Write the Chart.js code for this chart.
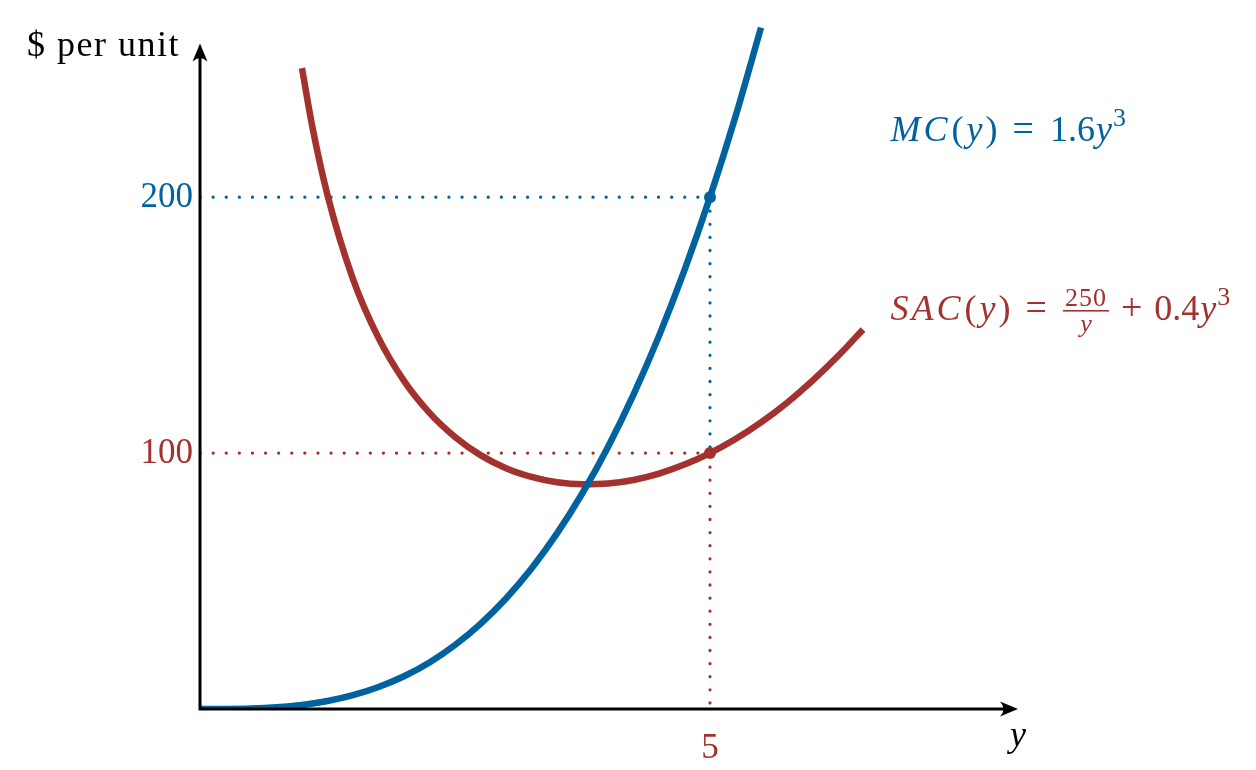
<!DOCTYPE html>
<html>
<head>
<meta charset="utf-8">
<script src="https://cdn.jsdelivr.net/npm/chart.js@4.4.1/dist/chart.umd.min.js"></script>
<style>
  html, body { margin: 0; padding: 0; background: #fff; }
  #wrap { width: 1256px; height: 770px; position: relative; }
</style>
</head>
<body>
<div id="wrap"><canvas id="costChart"></canvas></div>
<script>
// output y and cost values
var mcX = [0, 0.25, 0.5, 0.75, 1, 1.25, 1.5, 1.75, 2, 2.25, 2.5, 2.75, 3, 3.25, 3.5, 3.75, 4, 4.25, 4.5, 4.75, 5, 5.25, 5.5];
var mcY = [0, 0.03, 0.2, 0.7, 1.6, 3.1, 5.4, 8.6, 12.8, 18.2, 25, 33.3, 43.2, 54.9, 68.6, 84.4, 102.4, 122.8, 145.8, 171.5, 200, 231.5, 266.2];

var sacX = [1, 1.1, 1.25, 1.5, 1.75, 2, 2.25, 2.5, 2.75, 3, 3.25, 3.5, 3.75, 4, 4.25, 4.5, 4.75, 5, 5.25, 5.5, 5.75, 6, 6.25, 6.5];
var sacY = [250.4, 227.8, 200.8, 168.0, 145.0, 128.2, 115.7, 106.3, 99.2, 94.1, 90.7, 88.6, 87.8, 88.1, 89.5, 92.0, 95.5, 100, 105.5, 112.0, 119.5, 128.1, 137.7, 148.3];

// guide lines and marked points
var guideBlueX = [0, 5, 5];
var guideBlueY = [200, 200, 100];
var guideRedX = [0, 5, 5];
var guideRedY = [100, 100, 0];
var markX = [5, 5];
var markY = [200, 100];

// tick labels
var yTicks = [100, 200];
var yTickColors = ['#a3312d', '#00639f'];
var xTicks = [5];

var azul = '#00639f';
var rojo = '#a3312d';
var serif = '"Liberation Serif", "Times New Roman", serif';

function pares(xs, ys) {
  return xs.map(function (v, i) { return { x: v, y: ys[i] }; });
}

function flecha(ctx, x, y, ang) {
  ctx.save();
  ctx.translate(x, y);
  ctx.rotate(ang);
  ctx.beginPath();
  ctx.moveTo(0, 0);
  ctx.lineTo(-18, -7.5);
  ctx.quadraticCurveTo(-11, 0, -18, 7.5);
  ctx.closePath();
  ctx.fill();
  ctx.restore();
}

// draws a row of text pieces, returns the end x
function texto(ctx, x, y, partes, color) {
  ctx.fillStyle = color;
  ctx.textAlign = 'left';
  ctx.textBaseline = 'alphabetic';
  partes.forEach(function (p) {
    ctx.font = (p.i ? 'italic ' : '') + (p.s || 36) + 'px ' + serif;
    x += p.pre || 0;
    ctx.fillText(p.t, x, y + (p.dy || 0));
    x += ctx.measureText(p.t).width + (p.gap === undefined ? 3 : p.gap);
  });
  return x;
}

var ejesPlugin = {
  id: 'ejes',
  afterDatasetsDraw: function (chart) {
    var ctx = chart.ctx;
    var sx = chart.scales.x, sy = chart.scales.y;
    var x0 = sx.getPixelForValue(0), y0 = sy.getPixelForValue(0);
    var xEnd = sx.getPixelForValue(8) + 2;
    var yEnd = sy.getPixelForValue(260);

    ctx.save();
    ctx.strokeStyle = '#000';
    ctx.fillStyle = '#000';
    ctx.lineWidth = 3;
    ctx.beginPath();
    ctx.moveTo(x0 - 1.5, y0);
    ctx.lineTo(xEnd - 10, y0);
    ctx.moveTo(x0, y0 + 1.5);
    ctx.lineTo(x0, yEnd + 10);
    ctx.stroke();
    flecha(ctx, xEnd, y0, 0);
    flecha(ctx, x0, yEnd, -Math.PI / 2);

    // tick labels
    ctx.font = '35px ' + serif;
    ctx.textAlign = 'right';
    ctx.textBaseline = 'middle';
    yTicks.forEach(function (v, i) {
      ctx.fillStyle = yTickColors[i];
      ctx.fillText(String(v), x0 - 7, sy.getPixelForValue(v) + 1);
    });
    ctx.textAlign = 'center';
    ctx.fillStyle = rojo;
    xTicks.forEach(function (v) {
      ctx.fillText(String(v), sx.getPixelForValue(v), y0 + 40);
    });

    // axis titles
    ctx.fillStyle = '#000';
    ctx.textAlign = 'right';
    ctx.font = '36px ' + serif;
    ctx.letterSpacing = '1.5px';
    ctx.fillText('$ per unit', x0 - 20, yEnd + 3);
    ctx.letterSpacing = '0px';
    ctx.textAlign = 'center';
    ctx.font = 'italic 36px ' + serif;
    ctx.fillText('y', xEnd, y0 + 28);
    ctx.restore();

    // curve labels
    ctx.save();
    var lx = sx.getPixelForValue(6.77);
    texto(ctx, lx, sy.getPixelForValue(222), [
      { t: 'M', i: true }, { t: 'C', i: true, gap: 4 }, { t: '(' }, { t: 'y', i: true }, { t: ')' },
      { t: '=', pre: 12, gap: 16, s: 38 }, { t: '1.6', gap: 1 }, { t: 'y', i: true, gap: 1 }, { t: '3', s: 26, dy: -15 }
    ], azul);

    var by = sy.getPixelForValue(152);
    var fx = texto(ctx, lx, by, [
      { t: 'S', i: true }, { t: 'A', i: true }, { t: 'C', i: true, gap: 4 }, { t: '(' }, { t: 'y', i: true }, { t: ')' },
      { t: '=', pre: 12, gap: 16, s: 38 }
    ], rojo);
    ctx.font = '26px ' + serif;
    ctx.letterSpacing = '1px';
    var wNum = ctx.measureText('250').width;
    var barW = wNum + 4;
    ctx.fillStyle = rojo;
    ctx.fillRect(fx, by - 10, barW, 1.6);
    ctx.textAlign = 'center';
    ctx.fillText('250', fx + barW / 2, by - 14);
    ctx.letterSpacing = '0px';
    ctx.font = 'italic 26px ' + serif;
    ctx.fillText('y', fx + barW / 2, by + 12);
    texto(ctx, fx + barW + 12, by, [
      { t: '+', s: 38, gap: 12 }, { t: '0.4', gap: 1 }, { t: 'y', i: true, gap: 1 }, { t: '3', s: 26, dy: -15 }
    ], rojo);
    ctx.restore();
  }
};

var ctx = document.getElementById('costChart').getContext('2d');
var costChart = new Chart(ctx, {
  type: 'line',
  data: {
    datasets: [
      {
        label: 'MC',
        data: pares(mcX, mcY),
        borderColor: azul,
        borderWidth: 6.5,
        pointRadius: 0,
        cubicInterpolationMode: 'monotone',
        order: 2
      },
      {
        label: 'SAC',
        data: pares(sacX, sacY),
        borderColor: rojo,
        borderWidth: 6.5,
        pointRadius: 0,
        cubicInterpolationMode: 'monotone',
        order: 2
      },
      {
        label: 'guia azul',
        data: pares(guideBlueX, guideBlueY),
        borderColor: azul,
        borderWidth: 3.2,
        borderDash: [0.1, 13],
        borderCapStyle: 'round',
        pointRadius: 0,
        order: 4
      },
      {
        label: 'guia roja',
        data: pares(guideRedX, guideRedY),
        borderColor: rojo,
        borderWidth: 3.2,
        borderDash: [0.1, 13],
        borderCapStyle: 'round',
        pointRadius: 0,
        order: 4
      },
      {
        label: 'puntos',
        data: pares(markX, markY),
        showLine: false,
        pointRadius: 6,
        pointBorderWidth: 0,
        pointBackgroundColor: [azul, rojo],
        order: 1
      }
    ]
  },
  options: {
    responsive: true,
    maintainAspectRatio: false,
    animation: false,
    layout: {
      padding: { left: 200, right: 240, top: 18, bottom: 61 }
    },
    scales: {
      x: { type: 'linear', min: 0, max: 8, display: false },
      y: { type: 'linear', min: 0, max: 270, display: false }
    },
    plugins: {
      legend: { display: false },
      tooltip: { enabled: false }
    }
  },
  plugins: [ejesPlugin]
});
</script>
</body>
</html>
